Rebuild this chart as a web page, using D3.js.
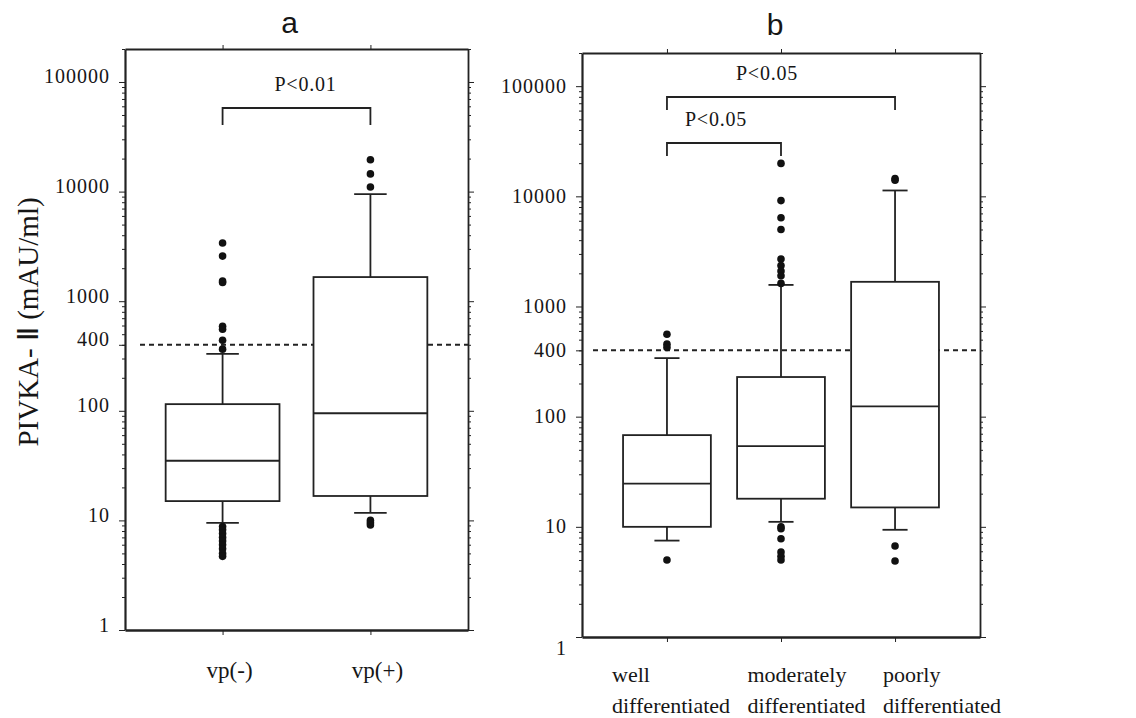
<!DOCTYPE html>
<html>
<head>
<meta charset="utf-8">
<script src="https://cdn.jsdelivr.net/npm/d3@7"></script>
<style>
  body { margin: 0; background: #fff; }
  text { font-family: "Liberation Serif", "Times New Roman", serif; fill: #161616; }
  .axis path, .axis line { stroke: #222; }
</style>
</head>
<body>
<div id="chart"></div>
<script>
// Values (PIVKA-II, mAU/ml, log scale)
var yTickValues = [1, 10, 100, 400, 1000, 10000, 100000];
var cutoff = 400;

// panel a
var catsA = ["vp(-)", "vp(+)"];
var q1A = [15, 16.7];
var medianA = [35, 95];
var q3A = [115, 1660];
var whiskLowA = [9.5, 11.7];
var whiskHighA = [330, 9500];
var outliersA = [
  [3400, 2580, 1530, 1480, 590, 555, 440, 365, 8.8, 8.2, 7.6, 7.0, 6.5, 6.0, 5.5, 5.0, 4.7],
  [19500, 14500, 11000, 10, 9.5, 9.1]
];
var bracketsA = [{ from: "vp(-)", to: "vp(+)", label: "P<0.01" }];

// panel b
var catsB = ["well", "moderately", "poorly"];
var labelLinesB = [["well", "differentiated"], ["moderately", "differentiated"], ["poorly", "differentiated"]];
var q1B = [10, 18, 15];
var medianB = [24.7, 54, 124];
var q3B = [68, 229, 1675];
var whiskLowB = [7.5, 11.1, 9.4];
var whiskHighB = [340, 1570, 11300];
var outliersB = [
  [560, 455, 425, 5.0],
  [19900, 9150, 6400, 5000, 2700, 2350, 2100, 1900, 1620, 10, 9.6, 7.8, 5.9, 5.4, 5.0],
  [14500, 14000, 6.7, 4.9]
];
var bracketsB = [
  { from: "well", to: "poorly", label: "P<0.05" },
  { from: "well", to: "moderately", label: "P<0.05" }
];

var svgWidth = 1136, svgHeight = 718;

var svg = d3.select("#chart")
  .append("svg")
    .attr("width", svgWidth)
    .attr("height", svgHeight);

// minor ticks 2..9 for each decade
var minorTicks = [];
for (var d = 0; d <= 5; d++) {
  for (var k = 2; k <= 9; k++) {
    var v = k * Math.pow(10, d);
    if (v <= 200000) minorTicks.push(v);
  }
}
var majorTicks = [1, 10, 100, 1000, 10000, 100000];

function drawPanel(p) {
  var y = d3.scaleLog().domain([1, 200000]).range([p.bottom, p.top]);
  var x = d3.scalePoint().domain(p.cats).range([p.left, p.right]).padding(p.pad);
  var step = x.step();
  var boxW = step * 0.77;
  var capW = step * 0.22;
  var g = svg.append("g");

  // left axis: minor ticks, then labelled ticks
  g.append("g").attr("class", "axis")
    .attr("transform", `translate(${p.left},0)`)
    .call(d3.axisLeft(y).tickValues(minorTicks).tickSize(3).tickFormat("").tickSizeOuter(0))
    .call(s => s.select(".domain").attr("stroke-width", 2.2));
  var leftAx = g.append("g").attr("class", "axis")
    .attr("transform", `translate(${p.left},0)`)
    .call(d3.axisLeft(y).tickValues(yTickValues).tickSize(6).tickPadding(9)
      .tickFormat(d3.format("d")).tickSizeOuter(0));
  leftAx.select(".domain").remove();
  leftAx.selectAll("text")
    .style("font-family", "'Liberation Serif', serif")
    .style("font-size", "20px")
    .style("letter-spacing", "1px")
    .attr("fill", "#161616")
    .attr("dy", d => (d === 1 ? p.oneDy : p.labelDy) + "px");

  // right axis
  g.append("g").attr("class", "axis")
    .attr("transform", `translate(${p.right},0)`)
    .call(d3.axisRight(y).tickValues(minorTicks).tickSize(3).tickFormat("").tickSizeOuter(0))
    .call(s => s.select(".domain").attr("stroke-width", 1.8));
  g.append("g").attr("class", "axis")
    .attr("transform", `translate(${p.right},0)`)
    .call(d3.axisRight(y).tickValues(majorTicks).tickSize(6).tickFormat("").tickSizeOuter(0))
    .call(s => s.select(".domain").remove());

  // top and bottom axes with ticks at the groups
  g.append("g").attr("class", "axis")
    .attr("transform", `translate(0,${p.top})`)
    .call(d3.axisTop(x).tickSize(4).tickFormat("").tickSizeOuter(0))
    .call(s => s.select(".domain").attr("stroke-width", 1.8));
  g.append("g").attr("class", "axis")
    .attr("transform", `translate(0,${p.bottom})`)
    .call(d3.axisBottom(x).tickSize(5).tickFormat("").tickSizeOuter(0))
    .call(s => s.select(".domain").attr("stroke-width", 2.4));

  // 400 cut-off line
  g.append("line")
    .attr("x1", p.left + p.dashInset).attr("x2", p.right)
    .attr("y1", y(cutoff)).attr("y2", y(cutoff))
    .attr("stroke", "#222").attr("stroke-width", 2)
    .attr("stroke-dasharray", "5,4");

  // boxes
  var boxes = g.selectAll("g.box")
    .data(p.cats)
    .enter()
    .append("g")
    .attr("class", "box");

  boxes.append("line")
    .attr("x1", d => x(d)).attr("x2", d => x(d))
    .attr("y1", (d, i) => y(p.q3[i])).attr("y2", (d, i) => y(p.hi[i]));
  boxes.append("line")
    .attr("x1", d => x(d)).attr("x2", d => x(d))
    .attr("y1", (d, i) => y(p.q1[i])).attr("y2", (d, i) => y(p.lo[i]));
  boxes.append("line")
    .attr("x1", d => x(d) - capW / 2).attr("x2", d => x(d) + capW / 2)
    .attr("y1", (d, i) => y(p.hi[i])).attr("y2", (d, i) => y(p.hi[i]));
  boxes.append("line")
    .attr("x1", d => x(d) - capW / 2).attr("x2", d => x(d) + capW / 2)
    .attr("y1", (d, i) => y(p.lo[i])).attr("y2", (d, i) => y(p.lo[i]));
  boxes.append("rect")
    .attr("x", d => x(d) - boxW / 2)
    .attr("width", boxW)
    .attr("y", (d, i) => y(p.q3[i]))
    .attr("height", (d, i) => y(p.q1[i]) - y(p.q3[i]))
    .attr("fill", "white");
  boxes.append("line")
    .attr("x1", d => x(d) - boxW / 2).attr("x2", d => x(d) + boxW / 2)
    .attr("y1", (d, i) => y(p.med[i])).attr("y2", (d, i) => y(p.med[i]));
  boxes.selectAll("line, rect")
    .attr("stroke", "#222").attr("stroke-width", 1.8);

  // outliers
  boxes.selectAll("circle")
    .data((d, i) => p.out[i].map(v => ({ cat: d, v: v })))
    .enter()
    .append("circle")
    .attr("cx", d => x(d.cat))
    .attr("cy", d => y(d.v))
    .attr("r", 3.8)
    .attr("fill", "#111");

  // significance brackets
  p.brackets.forEach(function (b, i) {
    var lvl = p.bracketLevels[i];
    var x1 = x(b.from), x2 = x(b.to);
    g.append("path")
      .attr("d", `M${x1},${lvl.end}V${lvl.y}H${x2}V${lvl.end}`)
      .attr("fill", "none").attr("stroke", "#222").attr("stroke-width", 1.8);
    g.append("text")
      .attr("x", (x1 + x2) / 2 + lvl.dx)
      .attr("y", lvl.y - 17)
      .attr("text-anchor", "middle")
      .style("font-size", "20px")
      .style("letter-spacing", "0.8px")
      .text(b.label);
  });

  // panel title
  g.append("text")
    .attr("x", (p.left + p.right) / 2 + p.titleDx)
    .attr("y", p.titleY)
    .attr("text-anchor", "middle")
    .style("font-family", "'Liberation Sans', Arial, sans-serif")
    .style("font-size", "30px")
    .text(p.title);

  return x;
}

// Panel a
var xA = drawPanel({
  left: 125, right: 468, top: 49, bottom: 630, pad: 0.66,
  cats: catsA, q1: q1A, med: medianA, q3: q3A, lo: whiskLowA, hi: whiskHighA, out: outliersA,
  brackets: bracketsA, bracketLevels: [{ y: 108, end: 125, dx: 9 }],
  labelDy: 1, oneDy: 1, dashInset: 15, title: "a", titleDx: -7, titleY: 33
});

// Panel b
var xB = drawPanel({
  left: 582, right: 980, top: 53, bottom: 637, pad: 0.745,
  cats: catsB, q1: q1B, med: medianB, q3: q3B, lo: whiskLowB, hi: whiskHighB, out: outliersB,
  brackets: bracketsB, bracketLevels: [{ y: 97, end: 110, dx: -14 }, { y: 143, end: 156, dx: -8 }],
  labelDy: 6, oneDy: 17, dashInset: 11, title: "b", titleDx: -6, titleY: 35
});

// category labels
svg.selectAll("text.catA")
  .data(catsA)
  .enter()
  .append("text")
  .attr("class", "catA")
  .attr("x", d => xA(d) + 7)
  .attr("y", 678)
  .attr("text-anchor", "middle")
  .style("font-size", "23px")
  .text(d => d);

var labelX = d3.scalePoint().domain(catsB).range([612, 883]);
var catB = svg.selectAll("text.catB")
  .data(catsB)
  .enter()
  .append("text")
  .attr("class", "catB")
  .attr("x", d => labelX(d))
  .attr("y", 682)
  .style("font-size", "22px");
catB.selectAll("tspan")
  .data((d, i) => labelLinesB[i])
  .enter()
  .append("tspan")
  .attr("x", function () { return d3.select(this.parentNode).attr("x"); })
  .attr("dy", (d, i) => i === 0 ? 0 : 31)
  .text(d => d);

// y-axis title
svg.append("text")
  .attr("transform", "translate(38,322) rotate(-90)")
  .attr("text-anchor", "middle")
  .style("font-size", "29px")
  .text("PIVKA- \u2161 (mAU/ml)");
</script>
</body>
</html>
